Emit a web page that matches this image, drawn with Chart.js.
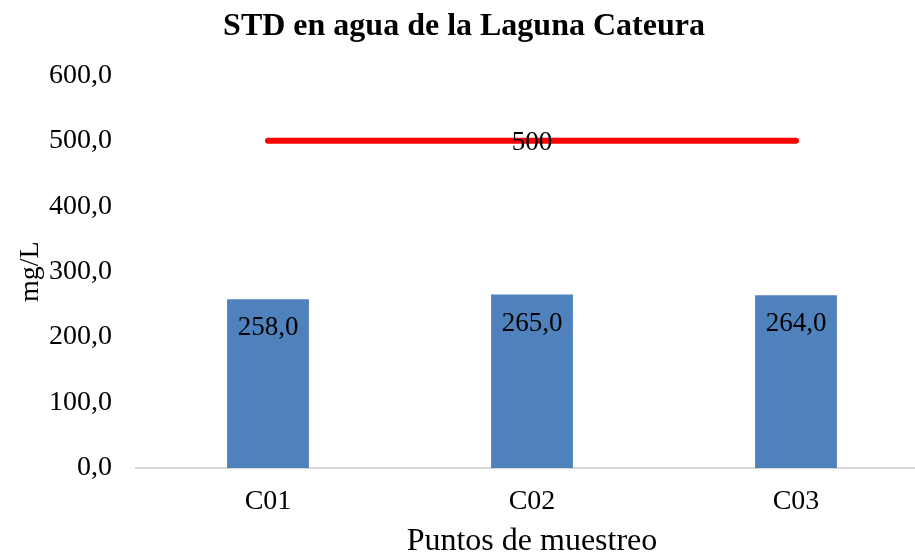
<!DOCTYPE html>
<html>
<head>
<meta charset="utf-8">
<script src="https://cdn.jsdelivr.net/npm/chart.js@4/dist/chart.umd.min.js"></script>
<style>
  html, body { margin: 0; padding: 0; background: #fff; overflow: hidden; }
  #wrap { width: 930px; height: 558px; }
</style>
</head>
<body>
<div id="wrap"><canvas id="chart" width="930" height="558"></canvas></div>
<script>
const puntos = ["C01", "C02", "C03"];
const std = [258, 265, 264];
const limite = [500, 500, 500];
const yTicks = [0, 100, 200, 300, 400, 500, 600];

const serif = "'Liberation Serif', 'Times New Roman', serif";
const coma = v => v.toFixed(1).replace(".", ",");

// labels inside bars and on the red line
const etiquetas = {
  id: "etiquetas",
  afterDatasetsDraw(chart) {
    const ctx = chart.ctx;
    ctx.save();
    ctx.fillStyle = "#000";
    ctx.textAlign = "center";
    ctx.textBaseline = "middle";
    ctx.font = "27px " + serif;
    chart.getDatasetMeta(0).data.forEach((bar, i) => {
      ctx.fillText(coma(std[i]), bar.x, bar.y + 29);
    });
    const mid = chart.getDatasetMeta(1).data[1];
    ctx.font = "27px " + serif;
    ctx.fillText(String(limite[1]), mid.x, mid.y + 2);
    ctx.restore();
  }
};

new Chart(document.getElementById("chart"), {
  type: "bar",
  data: {
    labels: puntos,
    datasets: [{
      type: "bar",
      data: std,
      backgroundColor: "#4F81BD",
      categoryPercentage: 1,
      barPercentage: 0.31,
      order: 2
    }, {
      type: "line",
      data: limite,
      borderColor: "#FF0000",
      borderWidth: 6,
      borderCapStyle: "round",
      pointRadius: 0,
      fill: false,
      order: 1
    }]
  },
  options: {
    responsive: false,
    animation: false,
    layout: { padding: { left: 0, right: 2, top: 0, bottom: 0 } },
    plugins: {
      legend: { display: false },
      tooltip: { enabled: false },
      title: {
        display: true,
        text: "STD en agua de la Laguna Cateura",
        color: "#000",
        font: { family: serif, size: 32, weight: "bold", lineHeight: 1.2 },
        padding: { top: 8, bottom: 29 }
      }
    },
    scales: {
      x: {
        grid: { display: false },
        border: { display: true, color: "#D9D9D9", width: 2 },
        ticks: { color: "#000", font: { family: serif, size: 28 }, padding: 9 },
        title: {
          display: true,
          text: "Puntos de muestreo",
          color: "#000",
          font: { family: serif, size: 32, lineHeight: 1 },
          padding: { top: 0, bottom: 0 }
        },
        afterFit(s) { s.height = 90; }
      },
      y: {
        min: 0,
        max: 600,
        afterBuildTicks(s) { s.ticks = yTicks.map(v => ({ value: v })); },
        grid: { display: false, drawTicks: false },
        border: { display: false },
        ticks: {
          color: "#000",
          font: { family: serif, size: 28 },
          padding: 24,
          callback: v => coma(v)
        },
        title: {
          display: true,
          text: "mg/L",
          color: "#000",
          font: { family: serif, size: 28, lineHeight: 1 },
          padding: { top: 17, bottom: 0 }
        },
        afterFit(s) { s.width = 136; }
      }
    }
  },
  plugins: [etiquetas]
});
</script>
</body>
</html>
